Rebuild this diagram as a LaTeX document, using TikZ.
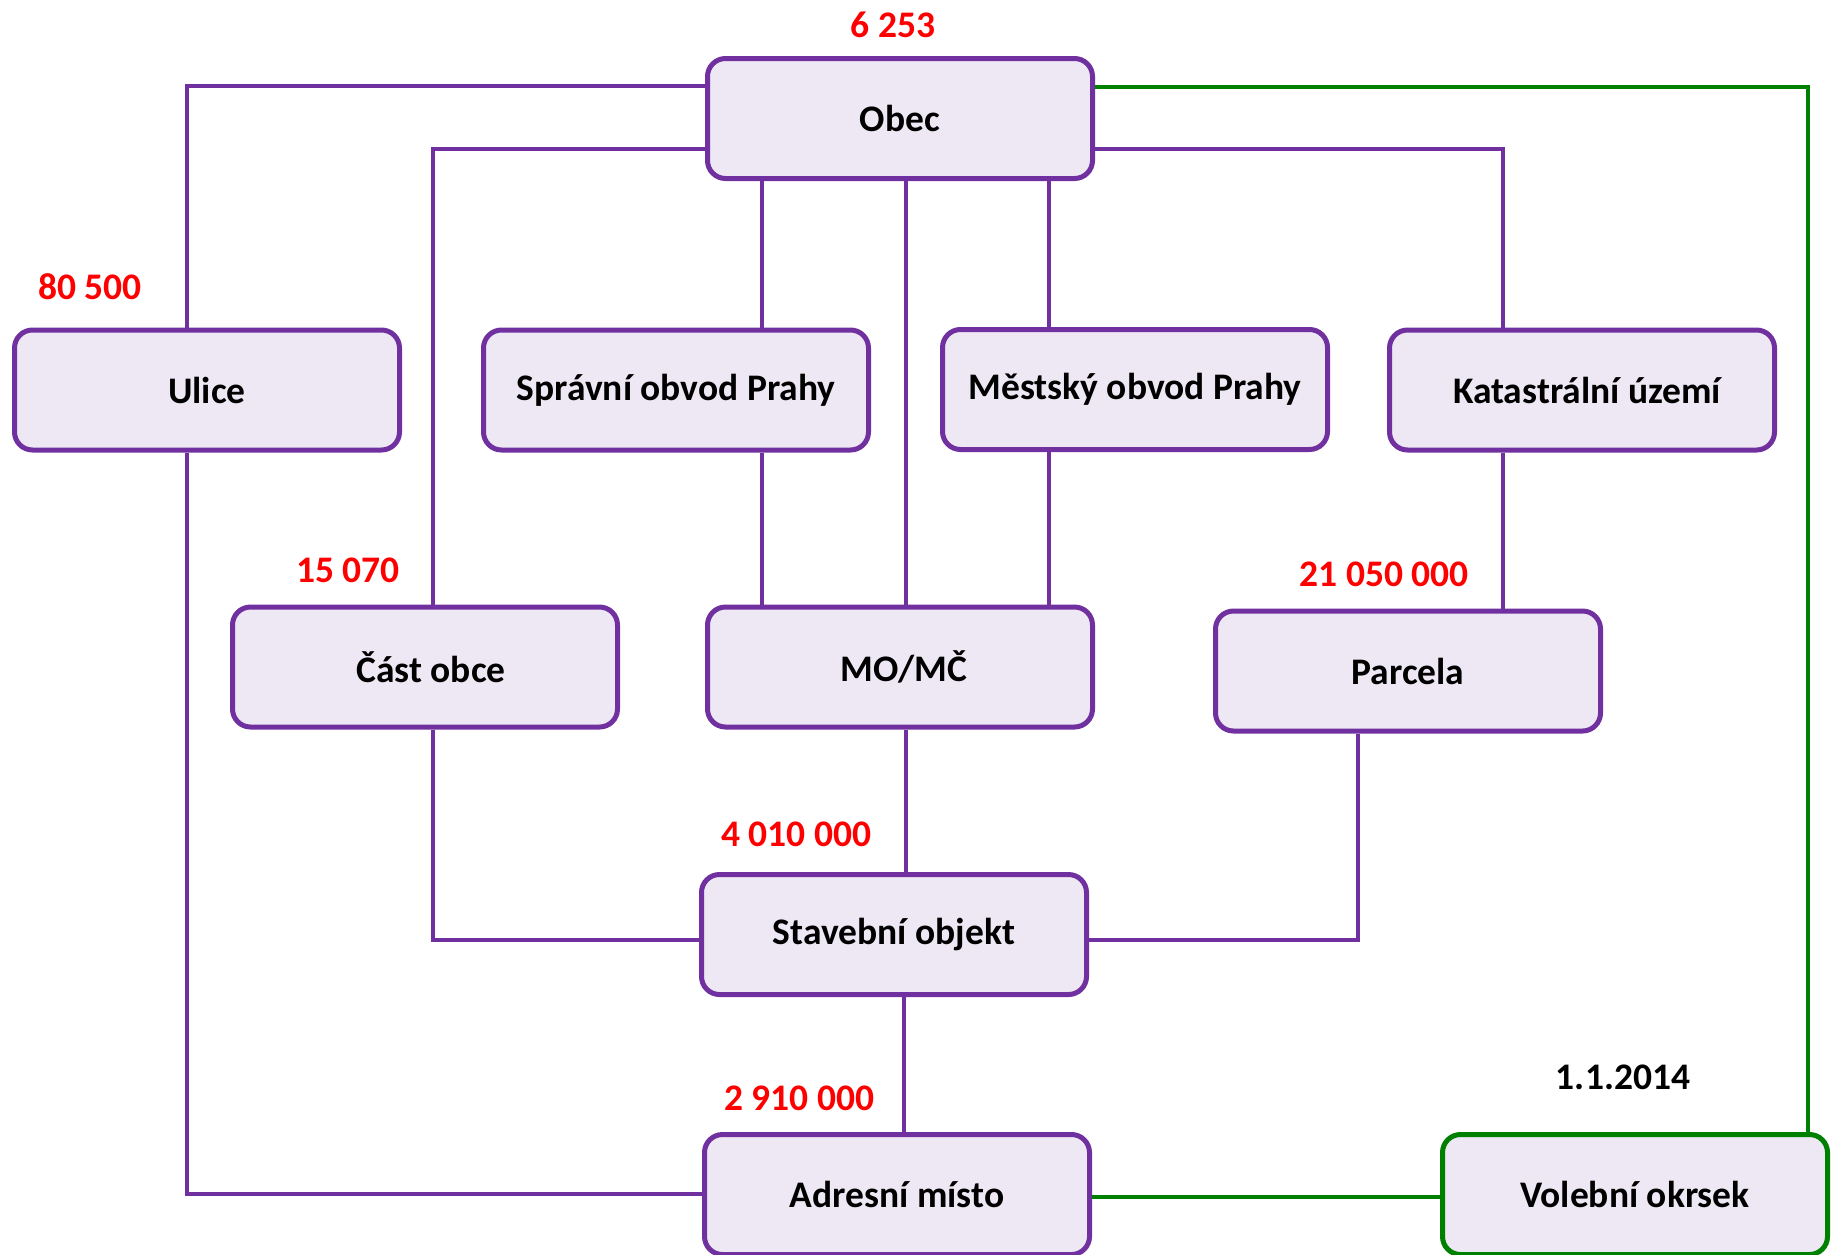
\documentclass[tikz,border=0pt]{standalone}
\usepackage{fontspec}
\setmainfont{Carlito}
\definecolor{boxpurple}{HTML}{7030A0}
\definecolor{boxfill}{HTML}{EEE8F4}
\definecolor{linkgreen}{HTML}{008000}
\definecolor{numred}{HTML}{FF0000}
\tikzset{
  entity/.style={rectangle, rounded corners=18pt, draw=boxpurple, line width=5pt,
    fill=boxfill, minimum width=385pt, minimum height=120pt, inner sep=0pt,
    font=\fontsize{37.5}{44}\selectfont\bfseries, text=black},
  greenentity/.style={entity, draw=linkgreen},
  conn/.style={draw=boxpurple, line width=3.5pt},
  gconn/.style={draw=linkgreen, line width=3.5pt},
  count/.style={font=\fontsize{37.5}{44}\selectfont\bfseries, text=numred, inner sep=0pt},
  datelabel/.style={font=\fontsize{37.5}{44}\selectfont\bfseries, text=black, inner sep=0pt}
}
\begin{document}
\begin{tikzpicture}[x=1pt,y=-1pt]
\useasboundingbox (0,0) rectangle (1831,1254);

% boxes
\node[entity] (obec) at (900,118.5) {Obec};
\node[entity] (ulice) at (207,390) {Ulice};
\node[entity] (spravni) at (676,390) {Správní obvod Prahy};
\node[entity] (mestsky) at (1135,389.5) {Městský obvod Prahy};
\node[entity] (katastr) at (1582,390) {\hspace*{10pt}Katastrální území};
\node[entity] (cast) at (425,667) {\hspace*{12pt}Část obce};
\node[entity] (momc) at (900,667) {\hspace*{8pt}MO/MČ};
\node[entity] (parcela) at (1408,671) {Parcela};
\node[entity] (stavebni) at (894,934.5) {Stavební objekt};
\node[entity] (adresni) at (897,1194.5) {Adresní místo};
\node[greenentity] (volebni) at (1635,1194.5) {Volební okrsek};

% labels
\node[count] (n1) at (893,24.5) {6 253};
\node[count] (n2) at (90,287) {80 500};
\node[count] (n3) at (348,570) {15 070};
\node[count] (n4) at (1384,574.5) {21 050 000};
\node[count] (n5) at (796,834) {4 010 000};
\node[count] (n6) at (799,1098) {2 910 000};
\node[datelabel] (d1) at (1623,1077) {1.1.2014};

% helper coordinates for connector routing
\coordinate (cA) at (187,86);
\coordinate (cB) at (433,149);
\coordinate (cS) at (762,0);
\coordinate (cM) at (906,0);
\coordinate (cP) at (1049,0);
\coordinate (cK) at (1503,149);
\coordinate (cG) at (1808,87);
\coordinate (cSt) at (0,940);
\coordinate (cPa) at (1358,0);
\coordinate (cAd) at (904,0);
\coordinate (cU) at (0,1194);
\coordinate (cV) at (0,1197);

% connectors
\draw[conn] (obec.west |- cA) -| (ulice.north -| cA);
\draw[conn] (obec.west |- cB) -| (cast.north -| cB);
\draw[conn] (obec.south -| cS) -- (spravni.north -| cS);
\draw[conn] (obec.south -| cM) -- (momc.north -| cM);
\draw[conn] (obec.south -| cP) -- (mestsky.north -| cP);
\draw[conn] (obec.east |- cK) -| (katastr.north -| cK);
\draw[gconn] (obec.east |- cG) -| (volebni.north -| cG);
\draw[conn] (spravni.south -| cS) -- (momc.north -| cS);
\draw[conn] (mestsky.south -| cP) -- (momc.north -| cP);
\draw[conn] (katastr.south -| cK) -- (parcela.north -| cK);
\draw[conn] (momc.south -| cM) -- (stavebni.north -| cM);
\draw[conn] (cast.south -| cB) |- (stavebni.west |- cSt);
\draw[conn] (stavebni.east |- cSt) -| (parcela.south -| cPa);
\draw[conn] (stavebni.south -| cAd) -- (adresni.north -| cAd);
\draw[conn] (ulice.south -| cA) |- (adresni.west |- cU);
\draw[gconn] (adresni.east |- cV) -- (volebni.west |- cV);
\end{tikzpicture}
\end{document}
